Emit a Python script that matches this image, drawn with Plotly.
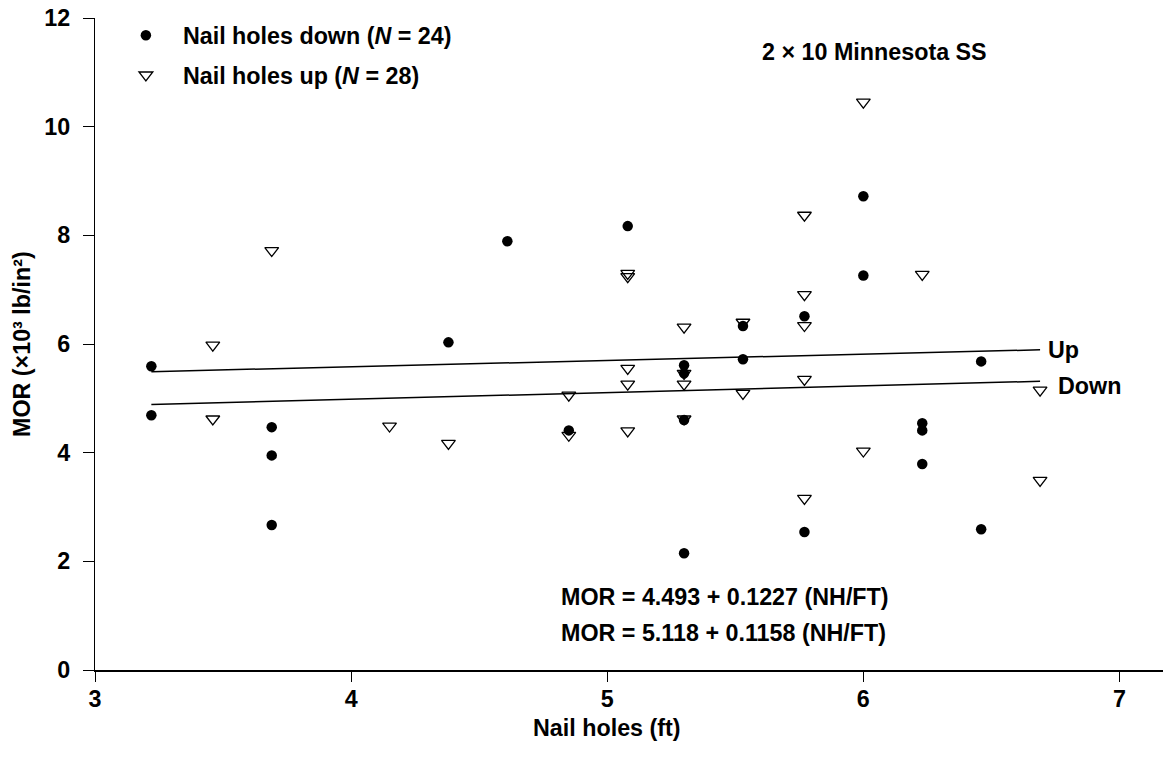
import plotly.graph_objects as go

# Nail holes per foot and MOR (x10^3 lb/in^2), nail holes down (N = 24)
down_nh = [3.22, 3.22, 3.69, 3.69, 3.69, 4.38, 4.61, 4.85, 5.08, 5.30, 5.30, 5.30,
           5.30, 5.53, 5.53, 5.77, 5.77, 6.00, 6.00, 6.23, 6.23, 6.23, 6.46, 6.46]
down_mor = [5.59, 4.69, 4.47, 3.95, 2.67, 6.03, 7.89, 4.41, 8.17, 5.61, 5.46, 4.60,
            2.15, 6.33, 5.72, 6.51, 2.54, 8.72, 7.26, 4.54, 4.41, 3.79, 5.68, 2.59]

# Nail holes up (N = 28)
up_nh = [3.46, 3.46, 3.69, 4.15, 4.38, 4.85, 4.85, 5.08, 5.08, 5.08, 5.08, 5.08,
         5.30, 5.30, 5.30, 5.30, 5.53, 5.53, 5.77, 5.77, 5.77, 5.77, 5.77, 6.00,
         6.00, 6.23, 6.69, 6.69]
up_mor = [5.98, 4.62, 7.72, 4.49, 4.17, 5.06, 4.32, 7.30, 7.24, 5.55, 5.26, 4.40,
          6.31, 5.46, 5.26, 4.62, 6.40, 5.09, 8.37, 6.91, 6.34, 5.35, 3.16, 10.45,
          4.03, 7.28, 5.15, 3.49]

# Regression fits: MOR = a + b * (NH/FT)
down_fit = (4.493, 0.1227)
up_fit = (5.118, 0.1158)

x_ticks = [3, 4, 5, 6, 7]
y_ticks = [0, 2, 4, 6, 8, 10, 12]

FONT = "Liberation Sans, Arial, Helvetica, sans-serif"
SIZE = 23.3


def fit_line(xs, coef):
    lo, hi = min(xs), max(xs)
    a, b = coef
    return [lo, hi], [a + b * lo, a + b * hi]


fig = go.Figure()

fig.add_trace(go.Scatter(
    x=down_nh, y=down_mor, mode="markers",
    name="Nail holes down (<i>N</i> = 24)",
    marker=dict(symbol="circle", size=10.5, color="black", line=dict(width=0)),
    legend="legend",
))
fig.add_trace(go.Scatter(
    x=up_nh, y=up_mor, mode="markers",
    name="Nail holes up (<i>N</i> = 28)",
    marker=dict(symbol="triangle-down-open", size=12, color="black",
                line=dict(width=1.3, color="black")),
    legend="legend2",
))

all_nh = down_nh + up_nh
ux, uy = fit_line(all_nh, up_fit)
dx, dy = fit_line(all_nh, down_fit)
fig.add_trace(go.Scatter(x=ux, y=uy, mode="lines", showlegend=False,
                         line=dict(color="black", width=1.5)))
fig.add_trace(go.Scatter(x=dx, y=dy, mode="lines", showlegend=False,
                         line=dict(color="black", width=1.5)))

tfont = dict(family=FONT, size=SIZE, color="black", weight="bold")

annotations = [
    dict(x=ux[1], y=uy[1], xref="x", yref="y", text="Up", showarrow=False,
         xanchor="left", yanchor="middle", xshift=6, font=tfont),
    dict(x=dx[1], y=dy[1], xref="x", yref="y", text="Down", showarrow=False,
         xanchor="left", yanchor="middle", xshift=16, yshift=-5, font=tfont),
    dict(x=5.598, y=11.37, xref="x", yref="y", text="2 × 10 Minnesota SS",
         showarrow=False, xanchor="left", yanchor="middle", font=tfont),
    dict(x=4.81, y=1.34, xref="x", yref="y",
         text=f"MOR = {down_fit[0]:.3f} + {down_fit[1]:.4f} (NH/FT)",
         showarrow=False, xanchor="left", yanchor="middle", font=tfont),
    dict(x=4.81, y=0.68, xref="x", yref="y",
         text=f"MOR = {up_fit[0]:.3f} + {up_fit[1]:.4f} (NH/FT)",
         showarrow=False, xanchor="left", yanchor="middle", font=tfont),
    dict(x=5, y=0, xref="x", yref="paper", text="Nail holes (ft)",
         showarrow=False, xanchor="center", yanchor="middle", yshift=-58, font=tfont),
    dict(x=0, y=0.5, xref="paper", yref="paper", text="MOR (×10³ lb/in²)",
         showarrow=False, xanchor="center", yanchor="middle", textangle=-90,
         xshift=-73, font=tfont),
]

legend_common = dict(
    font=tfont, bgcolor="rgba(0,0,0,0)", borderwidth=0,
    xanchor="left", yanchor="middle", itemwidth=64,
)

fig.update_layout(
    width=1163, height=770,
    margin=dict(l=95, r=0, t=18, b=100),
    paper_bgcolor="white", plot_bgcolor="white",
    font=dict(family=FONT, size=SIZE, color="black"),
    showlegend=True,
    legend=dict(x=0.013, y=0.973, **legend_common),
    legend2=dict(x=0.013, y=0.912, **legend_common),
    annotations=annotations,
    xaxis=dict(
        range=[3, 7.17], tickvals=x_ticks, ticks="outside", ticklen=10,
        tickwidth=1.3, tickcolor="black", showline=True, linecolor="black",
        linewidth=1.8, showgrid=False, zeroline=False, tickfont=tfont,
        ticklabelstandoff=-3,
    ),
    yaxis=dict(
        range=[0, 12], tickvals=y_ticks, ticks="outside", ticklen=11,
        tickwidth=1.3, tickcolor="black", showline=True, linecolor="black",
        linewidth=1.3, showgrid=False, zeroline=False, tickfont=tfont,
        ticklabelstandoff=8,
    ),
)

fig.write_html("out.html")
